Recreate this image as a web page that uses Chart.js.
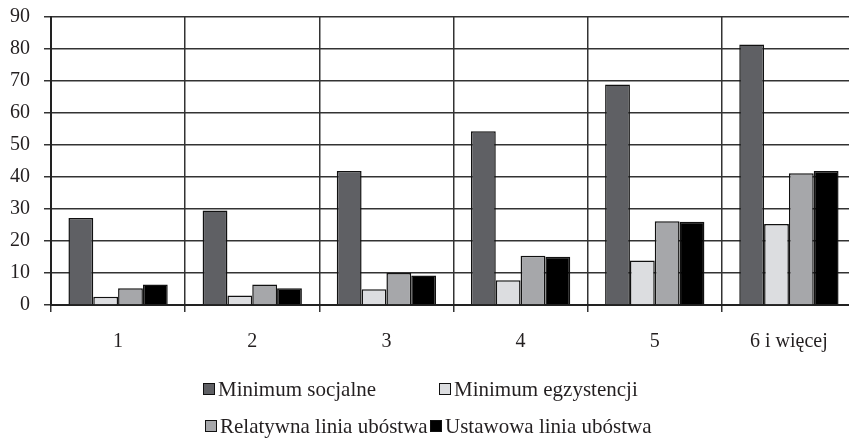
<!DOCTYPE html>
<html lang="pl">
<head>
<meta charset="UTF-8" />
<title>Linie ubóstwa</title>
<script src="https://cdn.jsdelivr.net/npm/chart.js"></script>
<style>
  html, body { margin: 0; padding: 0; overflow: hidden; background: #fff; }
  body { width: 849px; height: 439px; position: relative; font-family: 'Times New Roman', 'Liberation Serif', 'DejaVu Serif', serif; color: #231f20; }
  /* canvas pulled up a little so the 90 line sits near the top edge */
  .wrap { position: absolute; left: 0; top: -9px; width: 856px; height: 448px; }
  .legend { position: absolute; left: 0; top: 0; width: 849px; height: 439px; pointer-events: none; }
  .item { position: absolute; font-size: 21px; line-height: 24px; white-space: nowrap; }
  .item i { display: inline-block; width: 10px; height: 10px; border: 1px solid #111; margin-right: 3px; vertical-align: 1px; }
</style>
</head>
<body>
<div class="wrap"><canvas id="chart" width="856" height="448"></canvas></div>
<div class="legend" id="legend"></div>
<script>
const categories = ['1', '2', '3', '4', '5', '6 i więcej'];
const seriesNames = ['Minimum socjalne', 'Minimum egzystencji', 'Relatywna linia ubóstwa', 'Ustawowa linia ubóstwa'];
const minimumSocjalne = [27.2, 29.5, 41.9, 54.3, 68.9, 81.4];
const minimumEgzystencji = [2.6, 3.0, 4.9, 7.7, 13.9, 25.3];
const relatywnaLinia = [5.2, 6.4, 10.0, 15.4, 26.2, 41.2];
const ustawowaLinia = [6.4, 5.2, 9.2, 15.1, 26.0, 41.9];
const colors = ['#5f6064', '#dcdde0', '#a6a7aa', '#000000'];

const values = [minimumSocjalne, minimumEgzystencji, relatywnaLinia, ustawowaLinia];
const font = { family: "'Times New Roman', 'Liberation Serif', 'DejaVu Serif', serif", size: 20 };

new Chart(document.getElementById('chart'), {
  type: 'bar',
  data: {
    labels: categories,
    datasets: values.map((v, i) => ({
      label: seriesNames[i],
      data: v,
      backgroundColor: colors[i],
      borderColor: '#111',
      borderWidth: 1.5,
      categoryPercentage: 0.74,
      barPercentage: 1
    }))
  },
  options: {
    responsive: false,
    animation: false,
    layout: { padding: { top: 5, right: 0, bottom: 79, left: 0 } },
    plugins: { legend: { display: false }, tooltip: { enabled: false } },
    scales: {
      x: {
        afterFit: s => { s.height = 55; },
        grid: { color: '#333', lineWidth: 1.5, tickLength: 7, offset: true },
        border: { color: '#222', width: 2 },
        ticks: { color: '#231f20', font: font, padding: 18 }
      },
      y: {
        min: 0, max: 90,
        afterFit: s => { s.width = 51; },
        grid: { color: '#333', lineWidth: 1.5, tickLength: 7 },
        border: { color: '#222', width: 2 },
        ticks: { stepSize: 10, color: '#231f20', font: font, padding: 14 }
      }
    }
  }
});

// legend laid out like the original, two columns
const legendPos = [[203, 377], [439, 377], [205, 414], [430, 414]];
const legend = document.getElementById('legend');
seriesNames.forEach((name, i) => {
  const d = document.createElement('div');
  d.className = 'item';
  d.style.left = legendPos[i][0] + 'px';
  d.style.top = legendPos[i][1] + 'px';
  d.innerHTML = '<i style="background:' + colors[i] + '"></i>' + name;
  legend.appendChild(d);
});
</script>
</body>
</html>
